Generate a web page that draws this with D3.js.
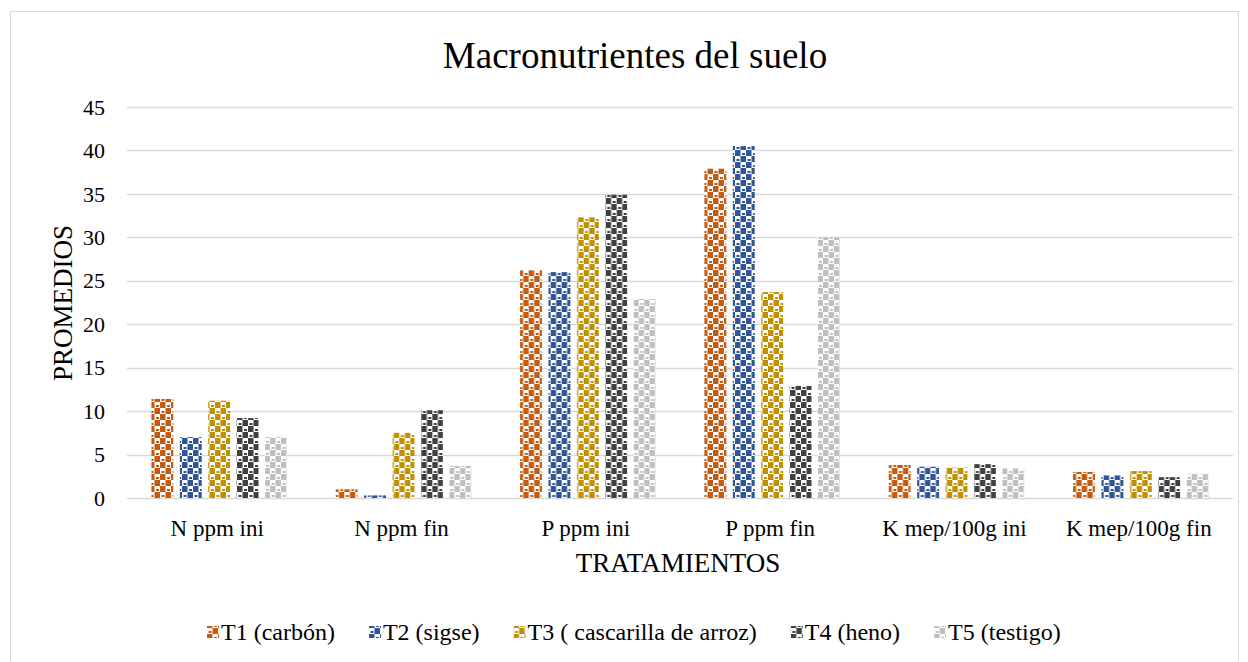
<!DOCTYPE html>
<html>
<head>
<meta charset="utf-8">
<script src="https://cdn.jsdelivr.net/npm/d3@7"></script>
<style>
  body { margin: 0; background: #fff; }
</style>
</head>
<body>
<script>
// data
const categories = ['N ppm ini', 'N ppm fin', 'P ppm ini', 'P ppm fin', 'K mep/100g ini', 'K mep/100g fin'];
const seriesNames = ['T1 (carbón)', 'T2 (sigse)', 'T3 ( cascarilla de arroz)', 'T4 (heno)', 'T5 (testigo)'];
const t1 = [11.4, 1.0, 26.2, 37.9, 3.8, 3.0];
const t2 = [7.0, 0.3, 26.0, 40.5, 3.6, 2.6];
const t3 = [11.2, 7.5, 32.3, 23.7, 3.5, 3.1];
const t4 = [9.2, 10.1, 34.9, 12.9, 3.9, 2.4];
const t5 = [7.0, 3.7, 22.9, 30.0, 3.4, 2.8];
const yTicks = [0, 5, 10, 15, 20, 25, 30, 35, 40, 45];
const colors = ['#c55a11', '#2f5597', '#bf9000', '#404040', '#bfbfbf'];

const series = [t1, t2, t3, t4, t5];

const width = 1248, height = 662;
const margin = {top: 107, bottom: 164, left: 127, right: 15};
const serif = '"Liberation Serif", "Times New Roman", "DejaVu Serif", serif';

const svg = d3.select('body').append('svg').attr('width', width).attr('height', height)
  .attr('font-family', serif);

// chart border
svg.append('rect').attr('x', 10.5).attr('y', 11.5).attr('width', 1228).attr('height', 660)
   .attr('fill', 'none').attr('stroke', '#d9d9d9');

// checkered fill patterns (large checkerboard look)
const defs = svg.append('defs');
colors.forEach((c, i) => {
  const p = defs.append('pattern').attr('id', 'pat' + i).attr('patternUnits', 'userSpaceOnUse')
    .attr('width', 11).attr('height', 12);
  p.append('rect').attr('width', 11).attr('height', 12).attr('fill', c);
  p.append('rect').attr('x', 0).attr('y', 0).attr('width', 5.5).attr('height', 6).attr('fill', '#fff');
  p.append('rect').attr('x', 5.5).attr('y', 6).attr('width', 5.5).attr('height', 6).attr('fill', '#fff');
  p.append('rect').attr('x', 1.5).attr('y', 3).attr('width', 3).attr('height', 2).attr('fill', c);
  p.append('rect').attr('x', 7).attr('y', 9).attr('width', 3).attr('height', 2).attr('fill', c);
});

const x0 = d3.scaleBand().domain(categories).range([margin.left, width - margin.right]);
const x1 = d3.scaleBand().domain(d3.range(5)).range([0, x0.bandwidth()]).paddingInner(0.23).paddingOuter(0.86);
const y = d3.scaleLinear().domain([0, 45]).range([height - margin.bottom, margin.top]);

// gridlines
svg.append('g').selectAll('line').data(yTicks).join('line')
  .attr('x1', margin.left).attr('x2', width - margin.right)
  .attr('y1', d => Math.round(y(d)) + 0.5).attr('y2', d => Math.round(y(d)) + 0.5)
  .attr('stroke', '#d9d9d9').attr('stroke-width', 1.3);

// y tick labels
svg.append('g').selectAll('text').data(yTicks).join('text')
  .attr('x', 105).attr('y', d => y(d)).attr('dy', '0.35em')
  .attr('text-anchor', 'end').attr('font-size', 22).text(d => d);

// bars
const groups = svg.append('g').selectAll('g').data(categories).join('g')
  .attr('transform', d => 'translate(' + x0(d) + ',0)');
groups.selectAll('rect').data((d, ci) => series.map((s, si) => ({si, v: s[ci]}))).join('rect')
  .attr('x', d => x1(d.si)).attr('width', x1.bandwidth())
  .attr('y', d => y(d.v)).attr('height', d => y(0) - y(d.v))
  .attr('fill', d => 'url(#pat' + d.si + ')');

// x labels
svg.append('g').selectAll('text').data(categories).join('text')
  .attr('x', d => x0(d) + x0.bandwidth() / 2 - 2).attr('y', 536)
  .attr('text-anchor', 'middle').attr('font-size', 23).text(d => d);

// title and axis titles
svg.append('text').attr('x', 635).attr('y', 68).attr('text-anchor', 'middle')
  .attr('font-size', 37).text('Macronutrientes del suelo');
svg.append('text').attr('x', 678).attr('y', 572).attr('text-anchor', 'middle')
  .attr('font-size', 27).text('TRATAMIENTOS');
svg.append('text').attr('transform', 'translate(72,303) rotate(-90)').attr('text-anchor', 'middle')
  .attr('font-size', 27).text('PROMEDIOS');

// legend, items laid out one after another
const leg = svg.append('g');
let lx = 207;
seriesNames.forEach((name, i) => {
  const g = leg.append('g').attr('transform', 'translate(' + lx + ',640)');
  g.append('rect').attr('x', 0).attr('y', -14).attr('width', 12).attr('height', 12)
    .attr('fill', 'url(#pat' + i + ')');
  const t = g.append('text').attr('x', 14).attr('y', 0)
    .attr('font-size', 24).text(name);
  lx += 14 + t.node().getComputedTextLength() + 34;
});
</script>
</body>
</html>
